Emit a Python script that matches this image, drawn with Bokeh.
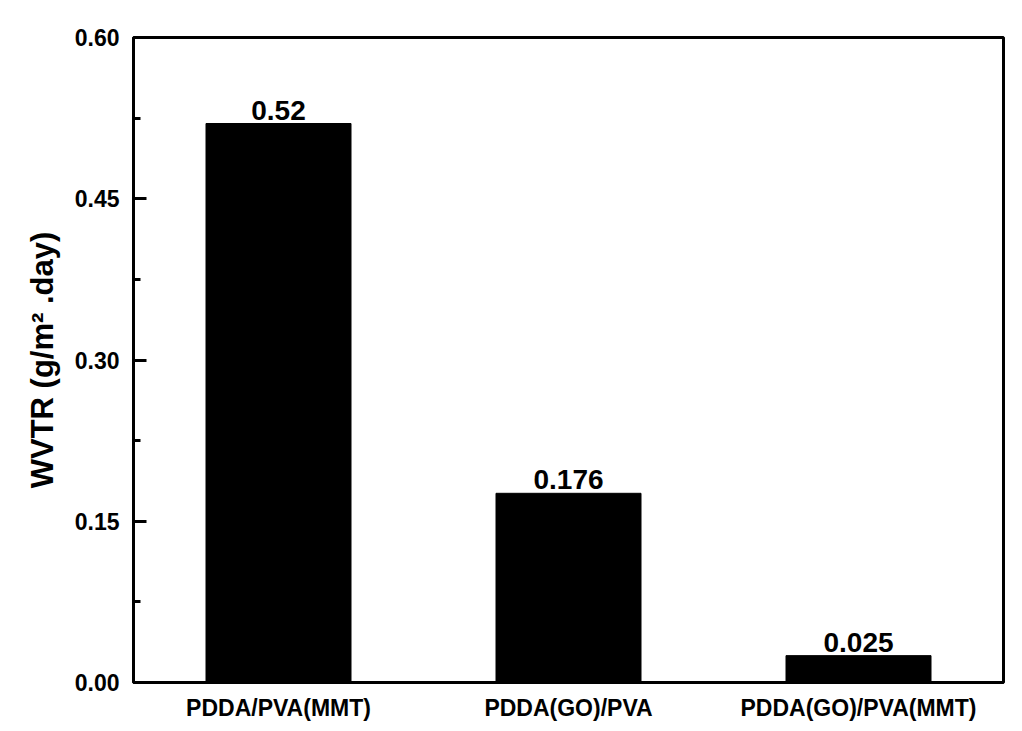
from bokeh.plotting import figure
from bokeh.models import ColumnDataSource, FixedTicker, PrintfTickFormatter, Range1d
from bokeh.core.properties import value
from bokeh.embed import file_html
from bokeh.resources import INLINE

categories = ["PDDA/PVA(MMT)", "PDDA(GO)/PVA", "PDDA(GO)/PVA(MMT)"]
wvtr = [0.52, 0.176, 0.025]
value_labels = ["0.52", "0.176", "0.025"]
y_ticks = [0.0, 0.15, 0.30, 0.45, 0.60]
y_minor_ticks = [0.075, 0.225, 0.375, 0.525]
y_title = "WVTR (g/m\u00b2 .day)"

FONT = "Liberation Sans"

src = ColumnDataSource(dict(cat=categories, val=wvtr, lab=value_labels))

p = figure(x_range=categories, y_range=Range1d(0, 0.6), width=1014, height=723,
           output_backend="svg", toolbar_location=None,
           min_border_left=133, min_border_right=11, min_border_top=37, min_border_bottom=38)
p.background_fill_color = "white"
p.border_fill_color = "white"
p.grid.visible = False
p.outline_line_color = "black"
p.outline_line_width = 3

p.vbar(x="cat", top="val", width=0.5, source=src, fill_color="black", line_color="black")
p.text(x="cat", y="val", text="lab", source=src, text_align="center", text_baseline="bottom",
       y_offset=-4, text_font=value(FONT), text_font_style="bold", text_font_size="28px",
       text_color="black")

yax = p.yaxis[0]
yax.ticker = FixedTicker(ticks=y_ticks, minor_ticks=y_minor_ticks)
yax.formatter = PrintfTickFormatter(format="%.2f")
yax.axis_line_width = 3
yax.axis_line_color = "black"
yax.major_tick_line_width = 3
yax.minor_tick_line_width = 3
yax.major_tick_line_color = "black"
yax.minor_tick_line_color = "black"
yax.major_tick_in = 13
yax.major_tick_out = 0
yax.minor_tick_in = 7
yax.minor_tick_out = 0
yax.major_label_standoff = 14
yax.major_label_text_color = "black"
yax.major_label_text_font = FONT
yax.major_label_text_font_style = "bold"
yax.major_label_text_font_size = "23px"
yax.axis_label = y_title
yax.axis_label_text_color = "black"
yax.axis_label_text_font = FONT
yax.axis_label_text_font_style = "bold"
yax.axis_label_text_font_size = "31px"
yax.axis_label_standoff = 12

xax = p.xaxis[0]
xax.axis_line_width = 3
xax.axis_line_color = "black"
xax.major_tick_line_color = None
xax.minor_tick_line_color = None
xax.major_label_standoff = 6
xax.major_label_text_color = "black"
xax.major_label_text_font = FONT
xax.major_label_text_font_style = "bold"
xax.major_label_text_font_size = "23px"

open("out.html", "w").write(file_html(p, INLINE))
